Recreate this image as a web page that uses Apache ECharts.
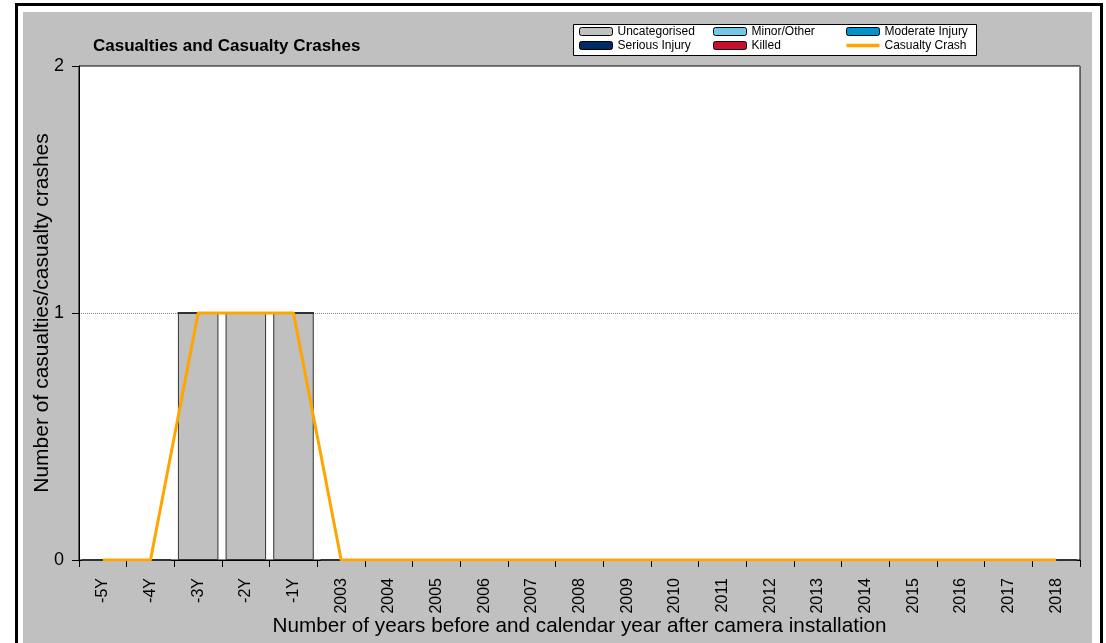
<!DOCTYPE html>
<html>
<head>
<meta charset="utf-8">
<script src="https://cdn.jsdelivr.net/npm/echarts@6/dist/echarts.min.js"></script>
<style>
  html, body { margin: 0; padding: 0; background: #fff; width: 1106px; height: 643px; overflow: hidden; }
  #wrap { position: relative; width: 1106px; height: 643px; overflow: hidden; }
  #frame {
    position: absolute; left: 15px; top: 3px;
    width: 1082px; height: 700px;
    border: 3px solid #000;
  }
  #panel {
    position: absolute; left: 23px; top: 12px;
    width: 1069px; height: 700px;
    background: #c0c0c0;
  }
  #main { position: absolute; left: 0; top: 0; width: 1106px; height: 643px; }
</style>
</head>
<body>
<div id="wrap">
  <div id="frame"></div>
  <div id="panel"></div>
  <div id="main"></div>
</div>
<script>
  // categories: years before install, then calendar years after
  const years = ['-5Y', '-4Y', '-3Y', '-2Y', '-1Y', '2003', '2004', '2005', '2006', '2007',
    '2008', '2009', '2010', '2011', '2012', '2013', '2014', '2015', '2016', '2017', '2018']

  const uncategorised = [0, 0, 1, 1, 1, 0, 0, 0, 0, 0, 0, 0, 0, 0, 0, 0, 0, 0, 0, 0, 0]
  const minorOther = [0, 0, 0, 0, 0, 0, 0, 0, 0, 0, 0, 0, 0, 0, 0, 0, 0, 0, 0, 0, 0]
  const moderateInjury = [0, 0, 0, 0, 0, 0, 0, 0, 0, 0, 0, 0, 0, 0, 0, 0, 0, 0, 0, 0, 0]
  const seriousInjury = [0, 0, 0, 0, 0, 0, 0, 0, 0, 0, 0, 0, 0, 0, 0, 0, 0, 0, 0, 0, 0]
  const killed = [0, 0, 0, 0, 0, 0, 0, 0, 0, 0, 0, 0, 0, 0, 0, 0, 0, 0, 0, 0, 0]
  const casualtyCrash = [0, 0, 1, 1, 1, 0, 0, 0, 0, 0, 0, 0, 0, 0, 0, 0, 0, 0, 0, 0, 0]

  const yTicks = [0, 1, 2]

  const font = 'Liberation Sans, Arial, sans-serif'

  let chart = echarts.init(document.getElementById('main'))

  function barSeries(name, data, color) {
    return {
      name: name,
      type: 'bar',
      stack: 'cas',
      data: data,
      barWidth: '85%',
      itemStyle: { color: color, borderColor: '#333', borderWidth: 1 },
    }
  }

  const legendCommon = {
    orient: 'vertical',
    itemWidth: 33,
    itemHeight: 8,
    itemGap: 1,
    padding: 0,
    selectedMode: false,
    itemStyle: { borderColor: '#000', borderWidth: 1 },
    textStyle: { fontFamily: font, fontSize: 12, color: '#000', lineHeight: 13 },
  }

  chart.setOption({
    animation: false,
    textStyle: { fontFamily: font },
    title: {
      text: 'Casualties and Casualty Crashes',
      left: 93,
      top: 38,
      padding: 0,
      textStyle: { fontFamily: font, fontSize: 17, fontWeight: 'bold', color: '#000' },
    },
    graphic: [
      {
        type: 'rect',
        z: 0,
        shape: { x: 573.5, y: 24.5, width: 403, height: 31 },
        style: { fill: '#fff', stroke: '#000', lineWidth: 1 },
      },
    ],
    legend: [
      Object.assign({ left: 579, top: 25, data: ['Uncategorised', 'Serious Injury'] }, legendCommon),
      Object.assign({ left: 713, top: 25, data: ['Minor/Other', 'Killed'] }, legendCommon),
      Object.assign({
        left: 846,
        top: 25,
        data: [
          'Moderate Injury',
          {
            name: 'Casualty Crash',
            icon: 'path://M0,0L33,0L33,3.5L0,3.5Z',
            itemStyle: { color: '#ffa500', borderWidth: 0 },
          },
        ],
      }, legendCommon),
    ],
    grid: {
      left: 79,
      top: 66,
      width: 1001,
      height: 494,
      outerBoundsMode: 'none',
      show: true,
      backgroundColor: '#fff',
      borderColor: '#000',
      borderWidth: 1,
    },
    xAxis: {
      type: 'category',
      data: years,
      boundaryGap: true,
      name: 'Number of years before and calendar year after camera installation',
      nameLocation: 'middle',
      nameGap: 56,
      nameMoveOverlap: false,
      nameTextStyle: { fontFamily: font, fontSize: 20.7, color: '#000' },
      axisLine: { lineStyle: { color: '#000', width: 1 } },
      axisTick: { show: true, length: 7, alignWithLabel: false, lineStyle: { color: '#000' } },
      axisLabel: {
        interval: 0,
        rotate: 90,
        margin: 18,
        fontFamily: font,
        fontSize: 16,
        color: '#000',
      },
    },
    yAxis: {
      type: 'value',
      min: yTicks[0],
      max: yTicks[yTicks.length - 1],
      interval: 1,
      name: 'Number of casualties/casualty crashes',
      nameLocation: 'middle',
      nameGap: 26,
      nameMoveOverlap: false,
      nameTextStyle: { fontFamily: font, fontSize: 21, color: '#000' },
      axisLine: { show: true, lineStyle: { color: '#000', width: 1 } },
      axisTick: { show: true, length: 7, lineStyle: { color: '#000' } },
      axisLabel: { margin: 15, fontFamily: font, fontSize: 18, color: '#000' },
      splitLine: { show: true, lineStyle: { color: '#808080', type: 'dotted', width: 1 } },
    },
    series: [
      barSeries('Uncategorised', uncategorised, '#c0c0c0'),
      barSeries('Minor/Other', minorOther, '#73c7e8'),
      barSeries('Moderate Injury', moderateInjury, '#0093d0'),
      barSeries('Serious Injury', seriousInjury, '#002a66'),
      barSeries('Killed', killed, '#c8102e'),
      {
        name: 'Casualty Crash',
        type: 'line',
        data: casualtyCrash,
        symbol: 'none',
        z: 5,
        lineStyle: { color: '#ffa500', width: 3 },
        itemStyle: { color: '#ffa500' },
      },
    ],
  })
</script>
</body>
</html>
